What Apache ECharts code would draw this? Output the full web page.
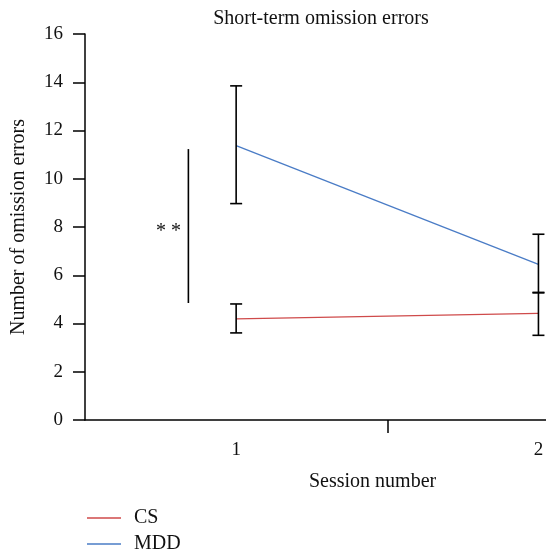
<!DOCTYPE html>
<html>
<head>
<meta charset="utf-8">
<script src="https://cdn.jsdelivr.net/npm/echarts@6/dist/echarts.min.js"></script>
<style>
  html, body { margin: 0; padding: 0; background: #fff; }
  #chart { width: 546px; height: 554px; }
</style>
</head>
<body>
<div id="chart"></div>
<script>
// 数据
var sessions = [1, 2];
var csMean = [4.19, 4.42];
var csLow = [3.61, 3.51];
var csHigh = [4.81, 5.29];
var mddMean = [11.37, 6.45];
var mddLow = [8.97, 5.27];
var mddHigh = [13.85, 7.70];
// 显著性标记: x位置, 下端, 上端
var sigBar = [0.842, 4.85, 11.23];
var sigText = "* *";

var font = "Liberation Serif";
var fs = 20;
var myChart = echarts.init(document.getElementById("chart"));

function errorBars(name, lows, highs) {
  return {
    name: name,
    type: "custom",
    z: 4,
    silent: true,
    data: sessions.map(function (s, i) { return [s, lows[i], highs[i]]; }),
    renderItem: function (params, api) {
      var lo = api.coord([api.value(0), api.value(1)]);
      var hi = api.coord([api.value(0), api.value(2)]);
      var w = 6;
      var st = { stroke: "#000", lineWidth: 1.6 };
      return {
        type: "group",
        children: [
          { type: "line", shape: { x1: lo[0], y1: lo[1], x2: hi[0], y2: hi[1] }, style: st },
          { type: "line", shape: { x1: lo[0] - w, y1: lo[1], x2: lo[0] + w, y2: lo[1] }, style: st },
          { type: "line", shape: { x1: hi[0] - w, y1: hi[1], x2: hi[0] + w, y2: hi[1] }, style: st }
        ]
      };
    }
  };
}

option = {
  animation: false,
  title: {
    text: "Short-term omission errors",
    left: 316,
    textAlign: "center",
    top: 4,
    textStyle: { fontFamily: font, fontSize: fs, fontWeight: "normal", color: "#111" }
  },
  legend: {
    data: ["CS", "MDD"],
    orient: "vertical",
    left: 87,
    top: 508,
    height: 60,
    padding: 0,
    itemWidth: 34,
    itemHeight: 1.5,
    itemGap: 6,
    icon: "rect",
    textStyle: { fontFamily: font, fontSize: fs, color: "#111", padding: [0, 0, 0, 8] }
  },
  grid: { left: 85, right: 0, top: 34, bottom: 134, outerBoundsMode: "none" },
  xAxis: {
    type: "value",
    min: 0.5,
    max: 2.025,
    splitLine: { show: false },
    axisLine: { lineStyle: { color: "#000", width: 1.5 } },
    axisTick: { show: true, customValues: [1.5], length: 13, inside: false, lineStyle: { color: "#000", width: 1.5 } },
    axisLabel: { customValues: [1, 2], margin: 21, fontFamily: font, fontSize: 19, color: "#111" }
  },
  yAxis: {
    type: "value",
    min: 0,
    max: 16,
    interval: 2,
    name: "Number of omission errors",
    nameLocation: "middle",
    nameGap: 56,
    nameTextStyle: { fontFamily: font, fontSize: fs, color: "#111" },
    splitLine: { show: false },
    axisLine: { show: true, lineStyle: { color: "#000", width: 1.5 } },
    axisTick: { show: true, length: 12, lineStyle: { color: "#000", width: 1.5 } },
    axisLabel: { margin: 22, fontFamily: font, fontSize: 19, color: "#111" }
  },
  graphic: [
    {
      type: "text",
      left: 309,
      top: 472,
      style: { text: "Session number", font: fs + "px 'Liberation Serif'", fill: "#111" }
    }
  ],
  series: [
    {
      name: "CS",
      type: "line",
      symbol: "none",
      z: 3,
      color: "#cf4a4a",
      lineStyle: { width: 1.3 },
      data: sessions.map(function (s, i) { return [s, csMean[i]]; })
    },
    {
      name: "MDD",
      type: "line",
      symbol: "none",
      z: 3,
      color: "#4a7cc6",
      lineStyle: { width: 1.3 },
      data: sessions.map(function (s, i) { return [s, mddMean[i]]; })
    },
    errorBars("errCS", csLow, csHigh),
    errorBars("errMDD", mddLow, mddHigh),
    {
      name: "sig",
      type: "custom",
      silent: true,
      data: [sigBar],
      renderItem: function (params, api) {
        var lo = api.coord([api.value(0), api.value(1)]);
        var hi = api.coord([api.value(0), api.value(2)]);
        return {
          type: "group",
          children: [
            { type: "line", shape: { x1: lo[0], y1: lo[1], x2: hi[0], y2: hi[1] }, style: { stroke: "#000", lineWidth: 1.6 } },
            {
              type: "text",
              x: lo[0] - 20,
              y: (lo[1] + hi[1]) / 2 + 6,
              style: { text: sigText, font: fs + "px 'Liberation Serif'", fill: "#111", align: "center", verticalAlign: "middle" }
            }
          ]
        };
      }
    }
  ]
};

myChart.setOption(option);
</script>
</body>
</html>
